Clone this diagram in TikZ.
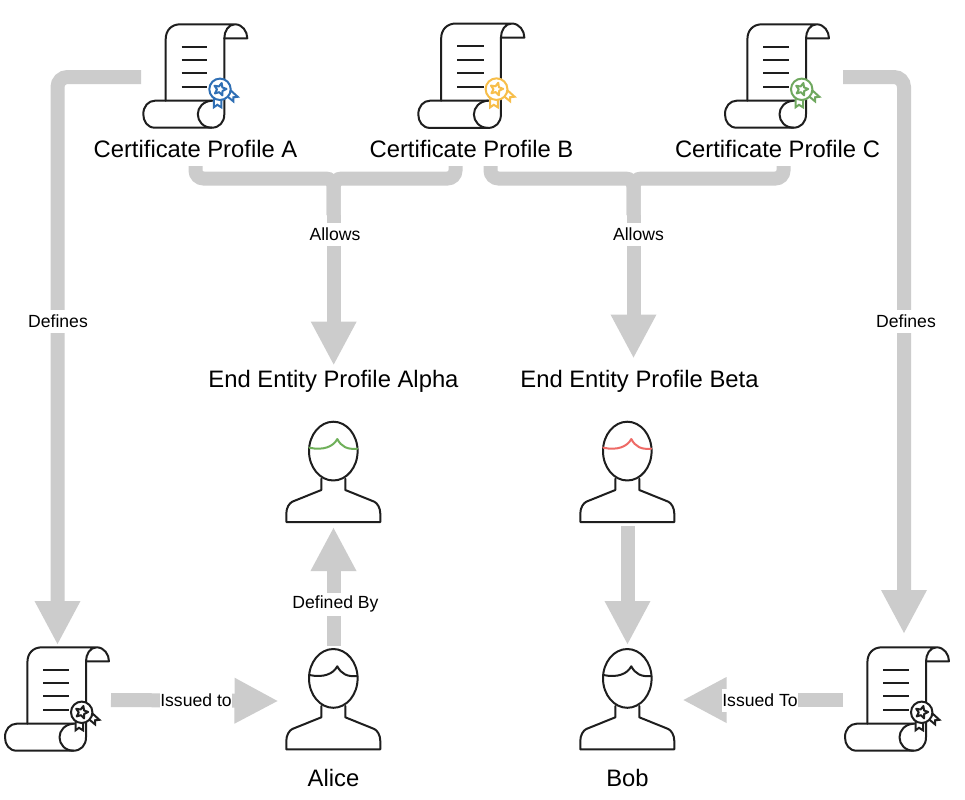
\documentclass[tikz,border=0pt]{standalone}
\usepackage{fontspec}
\setmainfont{Liberation Sans}
\usetikzlibrary{arrows.meta,calc}
\definecolor{flow}{HTML}{CCCCCC}
\definecolor{ink}{HTML}{1E1E1E}
\definecolor{sealblue}{HTML}{2F6FB5}
\definecolor{sealyellow}{HTML}{F7BE4A}
\definecolor{sealgreen}{HTML}{6FA85F}
\definecolor{hairgreen}{HTML}{6FB05A}
\definecolor{hairred}{HTML}{EE6A66}
\def\px{0.75pt}
\tikzset{
  iconline/.style={draw=ink,line width=2*\px,line join=round,line cap=round},
  anchorbox/.style={inner sep=0pt,outer sep=0pt,minimum width=#1*\px},
  title/.style={font=\fontsize{17.85}{20}\selectfont,inner sep=0pt,outer sep=0pt,text height=13pt,text depth=4pt,minimum height=30*\px},
  edgelabel/.style={font=\fontsize{13.2}{15}\selectfont,fill=white,inner sep=0pt,minimum height=23*\px,text=black},
  flowline/.style={draw=flow,line width=14*\px,rounded corners=8*\px},
  flowarrow/.style={draw=flow,line width=14*\px,rounded corners=10*\px,
    -{Triangle[length=44*\px,width=42.5*\px,fill=flow]}},
  pics/scrollicon/.style={code={
    \draw[iconline,fill=white] (22.4,76.4) -- (22.4,15) .. controls (22.4,6) and (28,0) .. (37,0) -- (91.7,0)
       .. controls (99,0) and (104,7) .. (104,14) -- (81,14) .. controls (81,7) and (85,0) .. (91.7,0);
    \draw[iconline] (81,14) -- (81,90) .. controls (81,98) and (76,103.4) .. (68.4,103.4) -- (11.7,103.4)
       .. controls (4,103.4) and (0,97) .. (0,90) .. controls (0,82) and (5,76.4) .. (11.7,76.4) -- (70,76.4);
    \draw[iconline] (68.4,103.4) .. controls (60,103.4) and (54.5,97) .. (54.5,90) .. controls (54.5,83) and (60,77) .. (68.4,76.4);
    \foreach \yy in {22.4,35.7,49,63} \draw[iconline,line cap=butt] (38.4,\yy) -- (64,\yy);
    \draw[draw=#1,line width=2*\px,line join=miter,fill=white] (70.5,72) -- (70.5,83) -- (74,80.5) -- (78,83) -- (78,72) -- cycle;
    \draw[draw=#1,line width=2*\px,line join=miter,fill=white] (87.7,66.4) -- (94.4,72.5) -- (90,73) -- (90,77) -- (84,72) -- cycle;
    \draw[draw=#1,line width=2*\px,fill=white] (76.7,65) circle [x radius=10.7,y radius=10.7];
    \draw[draw=#1,line width=2*\px,line join=round,shift={(76.7,65)}] (-75:6.5) -- (-39:3) -- (-3:6.5) -- (33:3) -- (69:6.5) -- (105:3) -- (141:6.5) -- (177:3) -- (213:6.5) -- (249:3) -- cycle;
  }},
  pics/personicon/.style={code={
    \draw[iconline] (-12,57) -- (-12,68.3) -- (-41,80) .. controls (-44,81.5) and (-47,86) .. (-47,92) -- (-47,100.3)
       -- (47,100.3) -- (47,92) .. controls (47,86) and (44,81.5) .. (41,80) -- (12,68.3) -- (12,57);
    \draw[iconline] (0,29.4) circle [x radius=24.3,y radius=29.4];
    \draw[draw=#1,line width=2*\px,line cap=round,line join=round] (-24,26) .. controls (-10,29) and (0,25) .. (4,17.3)
       .. controls (8,25) and (14,28) .. (24,27);
  }}
}
\begin{document}
\begin{tikzpicture}[x=0.75pt,y=-0.75pt]
\useasboundingbox[fill=white] (0,0) rectangle (965,800);

% icons
\pic at (143.3,24.3) {scrollicon=sealblue};
\pic[xscale=1.02,yscale=1.01] at (418.3,23.5) {scrollicon=sealyellow};
\pic at (725,24.3) {scrollicon=sealgreen};
\pic at (5,647.3) {scrollicon=ink};
\pic at (845,647.3) {scrollicon=ink};
\pic at (333.3,421.7) {personicon=hairgreen};
\pic at (627.3,421.7) {personicon=hairred};
\pic at (333.3,649) {personicon=ink};
\pic at (627.3,649) {personicon=ink};

% invisible anchor boxes around the icons
\node[anchorbox=104,minimum height=106*\px] (certA) at (193,77) {};
\node[anchorbox=122,minimum height=106*\px] (certC) at (904,77) {};
\node[anchorbox=107,minimum height=110*\px] (issuedL) at (57.5,700) {};
\node[anchorbox=122,minimum height=132*\px] (issuedR) at (904,700) {};
\node[anchorbox=110,minimum height=106*\px] (personAlpha) at (333.5,474) {};
\node[anchorbox=110,minimum height=106*\px] (personBeta) at (627.5,473) {};
\node[anchorbox=110,minimum height=110*\px] (alice) at (333.5,701) {};
\node[anchorbox=110,minimum height=110*\px] (bob) at (627.5,700) {};

% titles
\node[title] (profA) at (195.5,151) {Certificate Profile A};
\node[title] (profB) at (471.5,151) {Certificate Profile B};
\node[title] (profC) at (777.5,151) {Certificate Profile C};
\node[title,minimum height=32*\px] (eeAlpha) at (333.5,381.5) {End Entity Profile Alpha};
\node[title,minimum height=46*\px] (eeBeta) at (639.5,381.5) {End Entity Profile Beta};
\node[title] (aliceName) at (333.5,780) {Alice};
\node[title] (bobName) at (627.5,780) {Bob};

% junctions where the brackets meet the shafts
\coordinate (joinA) at (333.7,178.5);
\coordinate (shaftA) at (333.7,215);
\coordinate (joinB) at (633.5,178.5);
\coordinate (shaftB) at (633.5,215);

% connectors
\draw[flowarrow] (certA.west) -| (issuedL.north);
\draw[flowarrow] (certC.west) -| (issuedR.north);
\draw[flowline] (profA.south) |- (joinA) -- (shaftA);
\draw[flowline] ([xshift=-16*\px]profB.south) |- (joinA) -- (shaftA);
\draw[flowarrow] (shaftA) -- (shaftA |- eeAlpha.north);
\draw[flowline] ([xshift=19*\px]profB.south) |- (joinB) -- (shaftB);
\draw[flowline] ([xshift=6*\px]profC.south) |- (joinB) -- (shaftB);
\draw[flowarrow] (shaftB) -- (shaftB |- eeBeta.north);
\draw[flowarrow] (alice.north) -- (personAlpha.south);
\draw[flowarrow] (personBeta.south) -- (bob.north);
\draw[flowarrow] (issuedL.east) -- (alice.west);
\draw[flowarrow] (issuedR.west) -- (bob.east);

% connector labels
\node[edgelabel] (lblAllowsA) at (335,234.5) {Allows};
\node[edgelabel] (lblAllowsB) at (638.5,234.5) {Allows};
\node[edgelabel] (lblDefL) at (58,321) {Defines};
\node[edgelabel] (lblDefR) at (906,321) {Defines};
\node[edgelabel] (lblDefBy) at (335.5,604) {Defined By};
\node[edgelabel] (lblIssL) at (196,700.5) {Issued to};
\node[edgelabel] (lblIssR) at (760,700.5) {Issued To};
\end{tikzpicture}
\end{document}
